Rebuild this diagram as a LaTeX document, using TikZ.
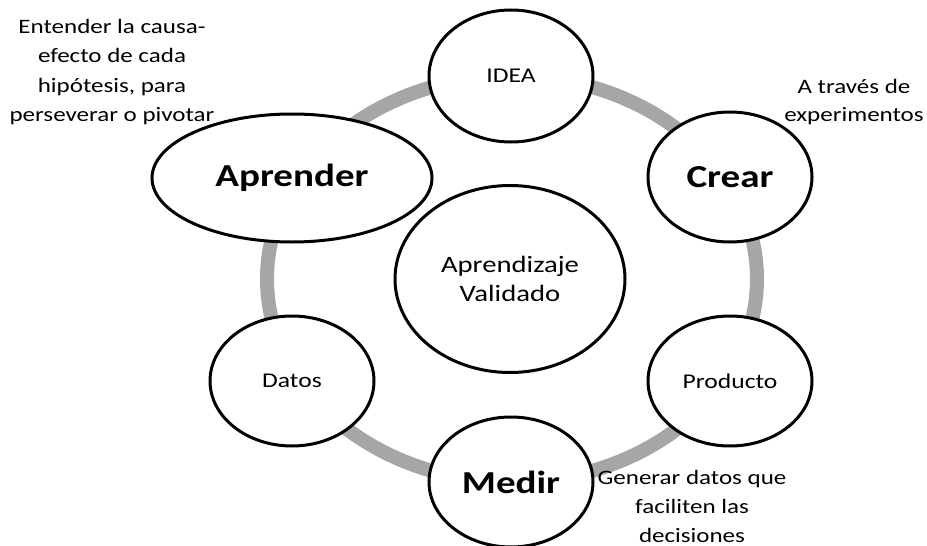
\documentclass[tikz,border=0pt]{standalone}
\usepackage{fontspec}
\setmainfont{Carlito}[FakeStretch=1.22]
\usepackage{tikz}
\usetikzlibrary{positioning,shapes.geometric}
\definecolor{ringgray}{HTML}{A6A6A6}

\begin{document}
\begin{tikzpicture}[x=0.5pt,y=-0.5pt,
  bubble/.style={ellipse,draw,line width=1.5pt,fill=white,inner sep=0pt,
    minimum width=82pt,minimum height=65pt,font=\fontsize{10.5}{12}\selectfont},
  keybubble/.style={bubble,font=\fontsize{16}{19}\selectfont\bfseries},
  note/.style={align=center,inner sep=0pt,font=\fontsize{10.25}{14.75}\selectfont}]
\useasboundingbox (0,0) rectangle (927,546);
% cycle ring behind the bubbles
\draw[line width=7pt,ringgray] (512,279) ellipse [x radius=245,y radius=203];
% bubbles round the ring
\node[bubble,minimum height=66pt] (idea) at (511,76) {IDEA};
\node[keybubble] (crear) at (730,177) {Crear};
\node[bubble] (producto) at (730,381) {Producto};
\node[keybubble] (medir) at (511,482) {Medir};
\node[bubble] (datos) at (292,381) {Datos};
\node[keybubble,minimum width=140pt,minimum height=64pt] (aprender) at (292,178) {Aprender};
% centre
\node[bubble,align=center,minimum width=115pt,minimum height=93.5pt,
  font=\fontsize{11.75}{14.5}\selectfont] (centro) at (510,279) {Aprendizaje\\Validado};
% side notes
\node[note] (notaaprender) at (112,72) {Entender la causa-\\efecto de cada\\hipótesis, para\\perseverar o pivotar};
\node[note,font=\fontsize{10.25}{14}\selectfont] (notacrear) at (854,102) {A través de\\experimentos};
\node[note,font=\fontsize{10.25}{14.5}\selectfont] (notamedir) at (692,506) {Generar datos que\\faciliten las\\decisiones};
\end{tikzpicture}
\end{document}
